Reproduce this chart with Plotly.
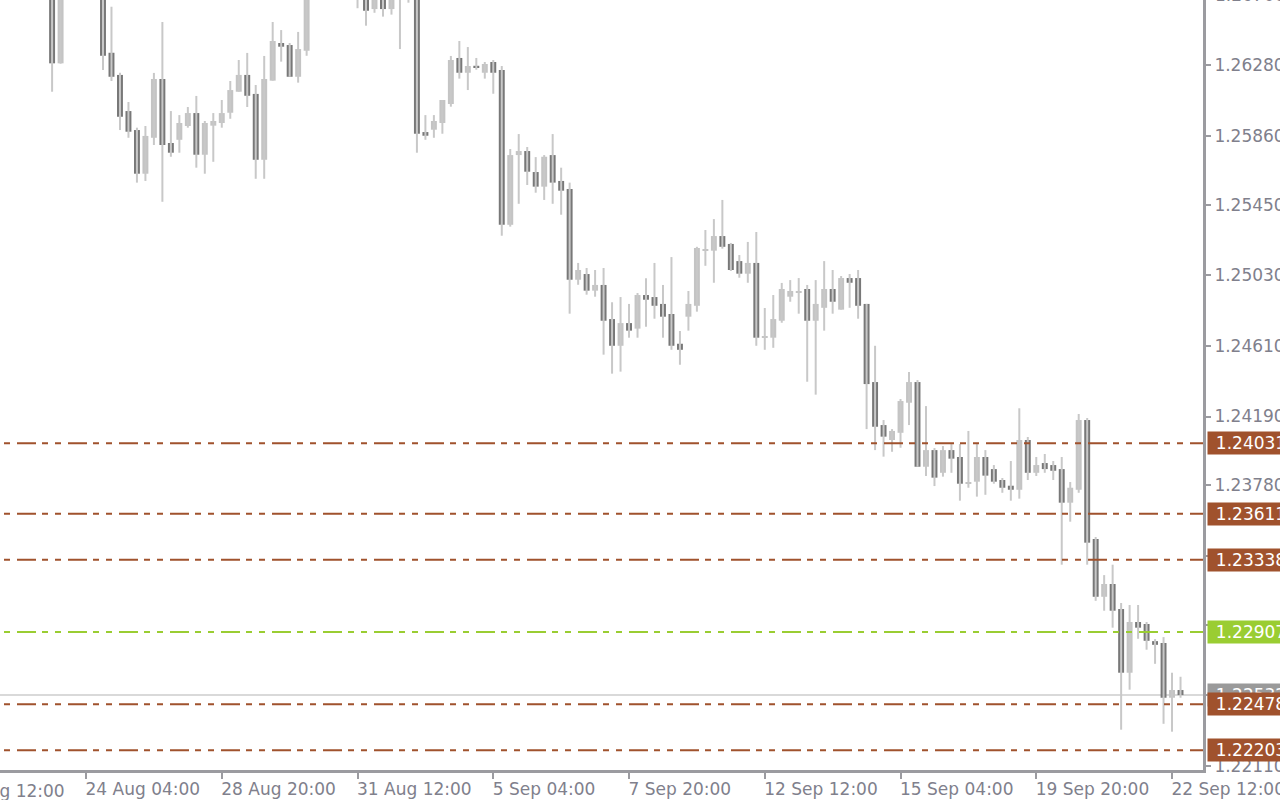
import plotly.graph_objects as go

# ---------------- data (GBPUSD, H4 bars) ----------------
# bar index 0..139 ; None = bar outside the visible price window
opens = [None, None, None, None, None, None,
         1.26800, 1.26292, None, None, None, None,
         1.26800, 1.26355, 1.26223, 1.26008, 1.25895, 1.25635, 1.25849, 1.26199, 1.25818, 1.25837,
         1.25919, 1.25996, 1.25748, 1.25921, 1.25937, 1.25998, 1.26123, 1.26223, 1.26110, 1.25718,
         1.26189, 1.26413, 1.26401, 1.26212, 1.26367,
         None, None, None, None, None,
         1.26780, 1.26760, 1.26615, 1.26750, 1.26615, 1.26700, 1.26760, 1.26710, 1.25883, 1.25897,
         1.25937, 1.26050, 1.26324, 1.26236, 1.26276, 1.26236, 1.26300, 1.26252, 1.25331, 1.25746,
         1.25770, 1.25645, 1.25558, 1.25746, 1.25592, 1.25544, 1.25004, 1.25038, 1.24939, 1.24973,
         1.24770, 1.24611, 1.24746, 1.24713, 1.24913, 1.24901, 1.24860, 1.24800, 1.24623, 1.24784,
         1.24849, 1.25177, 1.25177, 1.25264, 1.25217, 1.25115, 1.25040, 1.25104, 1.24659, 1.24659,
         1.24760, 1.24903, 1.24927, 1.24949, 1.24760, 1.24837, 1.24949, 1.24826, 1.25014, 1.25014,
         1.24860, 1.24395, 1.24139, 1.24050, 1.24093, 1.24272, 1.24395, 1.23891, 1.23990, 1.23855,
         1.23990, 1.23949, 1.23790, 1.23802, 1.23949, 1.23877, 1.23812, 1.23778, 1.23754, 1.24050,
         1.23855, 1.23913, 1.23901, 1.23877, 1.23677, 1.23754, 1.24169, 1.23461, 1.23117, 1.23193,
         1.23044, 1.22665, 1.22967, 1.22955, 1.22853, 1.22842, 1.22516, 1.22562]
highs = [None, None, None, None, None, None,
         1.26850, 1.26780, None, None, None, None,
         1.26840, 1.26629, 1.26236, 1.26062, 1.25909, 1.25919, 1.26235, 1.26538, 1.26008, 1.25984,
         1.26032, 1.26098, 1.25949, 1.25996, 1.26074, 1.26187, 1.26312, 1.26354, 1.26163, 1.26336,
         1.26538, 1.26490, 1.26413, 1.26479, 1.26760,
         None, None, None, None, None,
         1.26820, 1.26790, 1.26780, 1.26790, 1.26770, 1.26810, 1.26800, 1.26740, 1.25984, 1.25984,
         1.26074, 1.26336, 1.26425, 1.26389, 1.26324, 1.26300, 1.26312, 1.26276, 1.25782, 1.25871,
         1.25794, 1.25734, 1.25746, 1.25871, 1.25671, 1.25582, 1.25104, 1.25074, 1.25062, 1.25074,
         1.24870, 1.24901, 1.24860, 1.24925, 1.25013, 1.25104, 1.24973, 1.25139, 1.24699, 1.24937,
         1.25200, 1.25300, 1.25365, 1.25479, 1.25223, 1.25151, 1.25229, 1.25288, 1.24836, 1.24913,
         1.24985, 1.25002, 1.25014, 1.24973, 1.25002, 1.25115, 1.25062, 1.25026, 1.25038, 1.25062,
         1.24860, 1.24611, 1.24169, 1.24115, 1.24294, 1.24455, 1.24407, 1.24252, 1.24002, 1.24014,
         1.24026, 1.24026, 1.24104, 1.24026, 1.23990, 1.23901, 1.23824, 1.23925, 1.24239, 1.24068,
         1.23949, 1.23967, 1.23925, 1.23949, 1.23800, 1.24205, 1.24181, 1.23473, 1.23246, 1.23308,
         1.23080, 1.23068, 1.23068, 1.22967, 1.22865, 1.22877, 1.22665, 1.22641]
lows = [None, None, None, None, None, None,
        1.26123, 1.26290, None, None, None, None,
        1.26252, 1.26187, 1.25895, 1.25849, 1.25582, 1.25592, 1.25806, 1.25468, 1.25736, 1.25760,
        1.25909, 1.25671, 1.25635, 1.25706, 1.25909, 1.25962, 1.26123, 1.26032, 1.25605, 1.25605,
        1.26189, 1.26302, 1.26212, 1.26177, 1.26337,
        None, None, None, None, None,
        1.26620, 1.26516, 1.26593, 1.26570, 1.26582, 1.26377, 1.26653, 1.25760, 1.25837, 1.25849,
        1.25873, 1.26034, 1.26201, 1.26133, 1.26254, 1.26201, 1.26111, 1.25266, 1.25320, 1.25456,
        1.25568, 1.25522, 1.25479, 1.25456, 1.25391, 1.24802, 1.24974, 1.24915, 1.24903, 1.24558,
        1.24445, 1.24457, 1.24659, 1.24659, 1.24724, 1.24772, 1.24659, 1.24587, 1.24498, 1.24701,
        1.24814, 1.25087, 1.24986, 1.25189, 1.25056, 1.25016, 1.24986, 1.24611, 1.24587, 1.24599,
        1.24748, 1.24873, 1.24802, 1.24397, 1.24320, 1.24701, 1.24802, 1.24826, 1.24837, 1.24772,
        1.24115, 1.23990, 1.23951, 1.23980, 1.24004, 1.24139, 1.23891, 1.23836, 1.23776, 1.23832,
        1.23855, 1.23689, 1.23766, 1.23713, 1.23724, 1.23790, 1.23736, 1.23689, 1.23701, 1.23812,
        1.23836, 1.23855, 1.23812, 1.23308, 1.23564, 1.23736, 1.23308, 1.23093, 1.23034, 1.22933,
        1.22326, 1.22564, 1.22867, 1.22802, 1.22718, 1.22361, 1.22314, 1.22516]
closes = [None, None, None, None, None, None,
          1.26292, 1.26750, None, None, None, None,
          1.26337, 1.26212, 1.25974, 1.25885, 1.25635, 1.25860, 1.26199, 1.25806, 1.25760, 1.25937,
          1.25996, 1.25748, 1.25937, 1.25949, 1.25996, 1.26133, 1.26223, 1.26099, 1.25718, 1.26199,
          1.26425, 1.26391, 1.26212, 1.26377, 1.26720,
          None, None, None, None, None,
          1.26700, 1.26605, 1.26740, 1.26615, 1.26720, 1.26740, 1.26700, 1.25873, 1.25861, 1.25949,
          1.26074, 1.26312, 1.26236, 1.26276, 1.26270, 1.26288, 1.26236, 1.25331, 1.25746, 1.25770,
          1.25647, 1.25558, 1.25736, 1.25582, 1.25534, 1.25004, 1.25062, 1.24939, 1.24973, 1.24760,
          1.24611, 1.24746, 1.24701, 1.24913, 1.24885, 1.24849, 1.24784, 1.24611, 1.24587, 1.24860,
          1.25193, 1.25187, 1.25264, 1.25200, 1.25062, 1.25040, 1.25104, 1.24659, 1.24669, 1.24770,
          1.24949, 1.24937, 1.24937, 1.24760, 1.24860, 1.24949, 1.24873, 1.25014, 1.24986, 1.24849,
          1.24383, 1.24129, 1.24070, 1.24104, 1.24282, 1.24395, 1.23891, 1.23990, 1.23826, 1.23990,
          1.23939, 1.23790, 1.23800, 1.23949, 1.23838, 1.23802, 1.23766, 1.23754, 1.24050, 1.23855,
          1.23901, 1.23877, 1.23867, 1.23677, 1.23766, 1.24169, 1.23439, 1.23117, 1.23193, 1.23034,
          1.22665, 1.22967, 1.22933, 1.22855, 1.22831, 1.22516, 1.22562, 1.22532]

time_tick_index = [10, 26, 42, 58, 74, 90, 106, 122, 138]
time_tick_text = ["24 Aug 04:00", "28 Aug 20:00", "31 Aug 12:00", "5 Sep 04:00", "7 Sep 20:00",
                  "12 Sep 12:00", "15 Sep 04:00", "19 Sep 20:00", "22 Sep 12:00"]
clipped_time_index = -6
clipped_time_text = "21 Aug 12:00"

price_ticks = [1.26280, 1.25860, 1.25450, 1.25030, 1.24610, 1.24190, 1.23780,
               1.23360, 1.22950, 1.22530, 1.22110]
# tick labels that sit under the price boxes (hidden in the chart)
price_ticks_hidden = [1.23360, 1.22950, 1.22530]
clipped_price_tick = 1.26700

brown_levels = [1.24031, 1.23611, 1.23338, 1.22478, 1.22203]
green_level = 1.22907

# ---------------- styling ----------------
FONT = "DejaVu Sans"
BULL = "#c4c4c4"
BEAR = "#787878"
WICK = "#c8c8c8"
AXIS = "#9b9ba0"
LABEL = "#80808c"
BROWN = "#a0522d"
GREEN = "#9acd32"
FONT_SIZE = 17

x_range = [-0.14, 141.65]
y_range = [1.22086, 1.26669]

n = len(opens)
idx = list(range(n))

# wicks
wx, wy = [], []
for i in idx:
    if opens[i] is None:
        continue
    wx += [i, i, None]
    wy += [lows[i], highs[i], None]

# bodies
min_body = 0.00009
bull = dict(x=[], base=[], h=[])
bear = dict(x=[], base=[], h=[])
for i in idx:
    o, c = opens[i], closes[i]
    if o is None:
        continue
    tgt = bull if c >= o else bear
    lo = min(o, c)
    hgt = abs(c - o)
    if hgt < min_body:
        lo = (o + c) / 2 - min_body / 2
        hgt = min_body
    tgt["x"].append(i)
    tgt["base"].append(lo)
    tgt["h"].append(hgt)

fig = go.Figure()
fig.add_trace(go.Scatter(x=wx, y=wy, mode="lines", line=dict(color=WICK, width=2),
                         hoverinfo="skip", showlegend=False))
for d, col in ((bull, BULL), (bear, BEAR)):
    fig.add_trace(go.Bar(x=d["x"], y=d["h"], base=d["base"], width=0.7,
                         marker=dict(color=col, line=dict(width=0)), showlegend=False))

# current price line
last_close = closes[-1]
fig.add_shape(type="line", xref="paper", x0=0, x1=1, yref="y", y0=last_close, y1=last_close,
              line=dict(color="#d9d9d9", width=2), layer="below")

dash = "0px,4px,6px,7px,19px,6px,6px,3px"
for lv in brown_levels:
    fig.add_shape(type="line", xref="paper", x0=0, x1=1, yref="y", y0=lv, y1=lv,
                  line=dict(color=BROWN, width=2, dash=dash), layer="above")
fig.add_shape(type="line", xref="paper", x0=0, x1=1, yref="y", y0=green_level, y1=green_level,
              line=dict(color=GREEN, width=2, dash=dash), layer="above")


def price_box(val, bg):
    fig.add_annotation(x=1, xref="paper", xanchor="left", xshift=4,
                       y=val, yref="y", yanchor="middle",
                       text=f"{val:.5f}", showarrow=False, bgcolor=bg, borderpad=1,
                       width=84, align="center",
                       font=dict(family=FONT, size=FONT_SIZE, color="white"))


price_box(last_close, "#9a9a9a")
for lv in brown_levels[:3]:
    price_box(lv, BROWN)
price_box(green_level, GREEN)
for lv in brown_levels[3:]:
    price_box(lv, BROWN)

# clipped labels at the edges of the scales
span = x_range[1] - x_range[0]
fig.add_annotation(x=(clipped_time_index - x_range[0]) / span, xref="paper", xanchor="left",
                   xshift=-2, y=0, yref="paper", yanchor="top", yshift=-9, showarrow=False,
                   text=clipped_time_text, font=dict(family=FONT, size=FONT_SIZE, color=LABEL))
fig.add_annotation(x=1, xref="paper", xanchor="left", xshift=10,
                   y=1 + (clipped_price_tick - y_range[1]) / (y_range[1] - y_range[0]), yref="paper",
                   yanchor="middle", showarrow=False, text=f"{clipped_price_tick:.5f}",
                   font=dict(family=FONT, size=FONT_SIZE, color=LABEL))

fig.update_layout(
    template="none",
    width=1280, height=800,
    margin=dict(l=0, r=77, t=0, b=30, pad=0),
    paper_bgcolor="white", plot_bgcolor="white",
    barmode="overlay", showlegend=False, hovermode=False,
    font=dict(family=FONT, size=FONT_SIZE, color=LABEL),
)
fig.update_xaxes(range=x_range, showgrid=False, zeroline=False, showline=True,
                 linecolor=AXIS, linewidth=3, ticks="outside", ticklen=6, tickwidth=2,
                 tickcolor=AXIS, tickvals=time_tick_index, ticktext=time_tick_text,
                 ticklabelposition="outside right", ticklabelshift=-3, ticklabelstandoff=2,
                 ticklabeloverflow="allow", automargin=False,
                 tickfont=dict(family=FONT, size=FONT_SIZE, color=LABEL))
fig.update_yaxes(range=y_range, side="right", showgrid=False, zeroline=False, showline=True,
                 linecolor=AXIS, linewidth=3, ticks="outside", ticklen=5, tickwidth=2,
                 tickcolor=AXIS, tickvals=price_ticks,
                 ticktext=["" if v in price_ticks_hidden else f"{v:.5f}" for v in price_ticks],
                 ticklabeloverflow="allow", automargin=False,
                 tickfont=dict(family=FONT, size=FONT_SIZE, color=LABEL))

fig.write_html("out.html", config={"displayModeBar": False},
               post_script="document.documentElement.style.margin='0';"
                           "document.body.style.margin='0';document.body.style.padding='0';"
                           "document.body.style.overflow='hidden';")
